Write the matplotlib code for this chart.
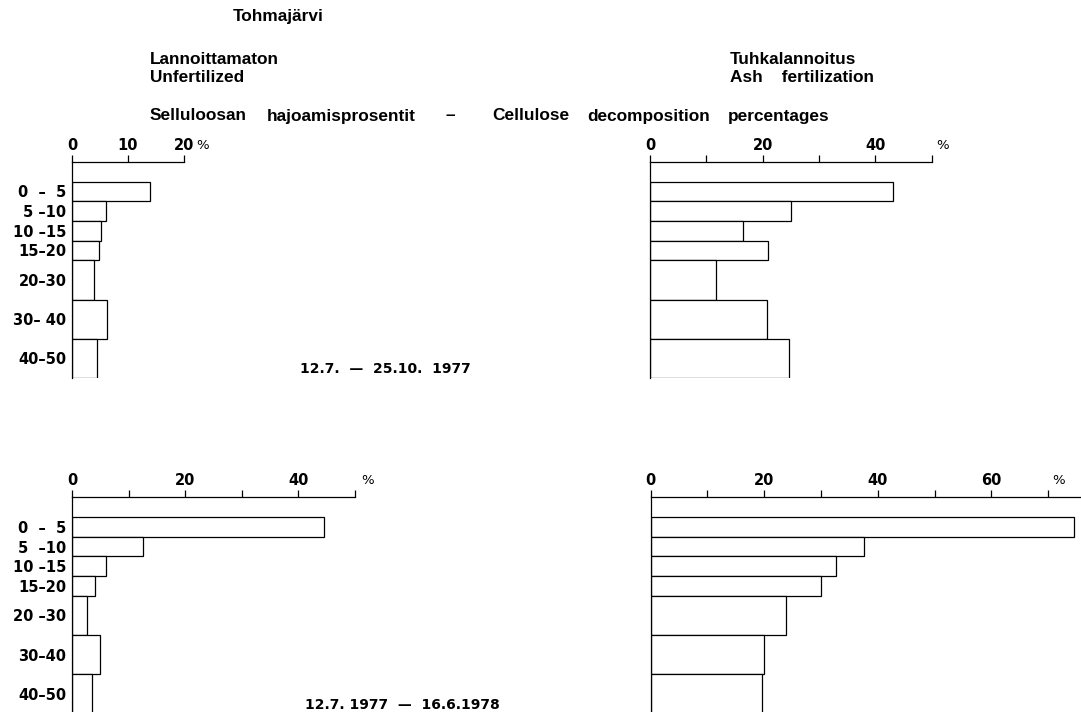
import numpy as np
import matplotlib.pyplot as plt

# ----------------------------
# Data
# ----------------------------
DEPTH_TOP = [0, 5, 10, 15, 20, 30, 40]
DEPTH_BOTTOM = [5, 10, 15, 20, 30, 40, 50]

LABELS_1977 = ["0  –  5", "5 –10", "10 –15", "15–20", "20–30", "30– 40", "40–50"]
LABELS_1978 = ["0  –  5", "5  –10", "10 –15", "15–20", "20 –30", "30–40", "40–50"]

UNFERT_1977 = [13.9, 6.0, 5.2, 4.8, 4.0, 6.2, 4.5]
ASH_1977 = [43.2, 25.0, 16.5, 21.0, 11.7, 20.7, 24.7]
UNFERT_1978 = [44.5, 12.6, 6.0, 4.0, 2.7, 4.9, 3.5]
ASH_1978 = [74.5, 37.6, 32.7, 30.0, 23.8, 20.0, 19.6]

W, H = 1081, 712
TICK_FONT = dict(family="DejaVu Sans", weight="bold", size=10.5)
DATE_FONT = dict(family="DejaVu Sans", weight="bold", size=10)
HEAD_FONT = dict(family="Liberation Sans", weight="bold", size=12.4)

fig = plt.figure(figsize=(W / 100, H / 100), dpi=100)
fig.patch.set_facecolor("white")


def px(x, y):
    return x / W, 1 - y / H


def panel(left, top, px_per_pct, xmax, values, ticks, labeled, pct_dx,
          ylabels=None):
    width = xmax * px_per_pct
    height = 55 * 3.93
    ax = fig.add_axes([left / W, 1 - (top + height) / H, width / W, height / H])
    ax.set_facecolor("none")

    top_d = np.array(DEPTH_TOP)
    bot_d = np.array(DEPTH_BOTTOM)
    ax.barh((top_d + bot_d) / 2, values, height=bot_d - top_d, left=0,
            color="white", edgecolor="black", linewidth=0.9, zorder=2)

    ax.set_xlim(0, xmax)
    ax.set_ylim(50, -5)

    for s in ("bottom", "right"):
        ax.spines[s].set_visible(False)
    for s in ("top", "left"):
        ax.spines[s].set_linewidth(0.9)

    ax.xaxis.set_ticks_position("top")
    ax.set_xticks(ticks)
    ax.set_xticklabels([str(t) if t in labeled else "" for t in ticks],
                       **TICK_FONT)
    ax.tick_params(axis="x", direction="out", length=5, width=0.9, pad=1.5)

    if ylabels is not None:
        ax.set_yticks((top_d + bot_d) / 2)
        ax.set_yticklabels(ylabels, **TICK_FONT)
        ax.tick_params(axis="y", length=0, pad=4)
    else:
        ax.set_yticks([])

    ax.annotate("%", xy=(ticks[-1], -5), xytext=(pct_dx * 0.72, 7.5),
                textcoords="offset points", ha="center", va="bottom",
                fontsize=9.5, family="DejaVu Sans", annotation_clip=False)
    return ax


panel(72, 162, 5.6, 20, UNFERT_1977, [0, 10, 20], [0, 10, 20], 19,
      LABELS_1977)
panel(650, 162, 5.63, 50, ASH_1977, [0, 10, 20, 30, 40, 50], [0, 20, 40], 11)
panel(72, 497.5, 5.66, 50, UNFERT_1978, [0, 10, 20, 30, 40, 50], [0, 20, 40],
      13, LABELS_1978)
panel(650.7, 497.5, 5.68, 430.3 / 5.68, ASH_1978,
      [0, 10, 20, 30, 40, 50, 60, 70], [0, 20, 40, 60], 10.6)

# header texts
fig.text(*px(233, 17), "Tohmajärvi", va="center", **HEAD_FONT)
fig.text(*px(150, 59), "Lannoittamaton", va="center", **HEAD_FONT)
fig.text(*px(150, 78), "Unfertilized", va="center", **HEAD_FONT)
fig.text(*px(730, 59), "Tuhkalannoitus", va="center", **HEAD_FONT)
fig.text(*px(730, 78), "Ash    fertilization", va="center", **HEAD_FONT)

for word, x in [("Selluloosan", 150), ("hajoamisprosentit", 267), ("–", 446),
                ("Cellulose", 492), ("decomposition", 587),
                ("percentages", 728)]:
    fig.text(*px(x, 116), word, va="center", **HEAD_FONT)

fig.text(*px(300, 369), "12.7.  —  25.10.  1977", va="center", **DATE_FONT)
fig.text(*px(305, 705), "12.7. 1977  —  16.6.1978", va="center", **DATE_FONT)

fig.savefig("out.png", dpi=100, facecolor="white")
